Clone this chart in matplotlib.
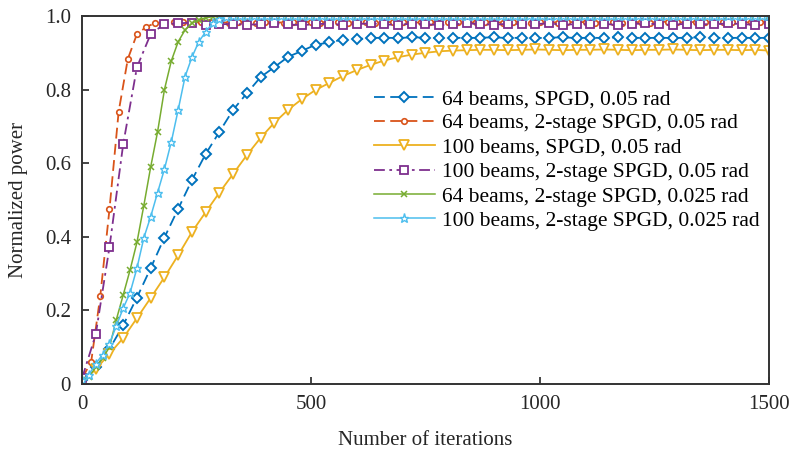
import matplotlib
matplotlib.use("Agg")
import matplotlib.pyplot as plt
import numpy as np

plt.rcParams['font.family'] = ['Liberation Serif', 'DejaVu Serif']

# iteration grids (marker spacing differs per curve)
it30 = np.arange(0, 1501, 30)
it20 = np.arange(0, 1501, 20)
it15 = np.arange(0, 1501, 15)

# 64 beams, SPGD, 0.05 rad
blue = [0.012, 0.045, 0.095, 0.160, 0.235, 0.315, 0.398, 0.476, 0.554, 0.625,
        0.685, 0.745, 0.790, 0.834, 0.861, 0.889, 0.905, 0.922, 0.928, 0.936,
        0.937, 0.940, 0.941, 0.940, 0.942, 0.941, 0.940, 0.941, 0.940, 0.941,
        0.942, 0.940, 0.941, 0.940, 0.941, 0.942, 0.940, 0.941, 0.940, 0.942,
        0.941, 0.940, 0.941, 0.940, 0.941, 0.942, 0.941, 0.940, 0.941, 0.940,
        0.941]

# 64 beams, 2-stage SPGD, 0.05 rad
red = [0.015, 0.060, 0.240, 0.475, 0.740, 0.883, 0.951, 0.970, 0.981, 0.982,
       0.983, 0.984, 0.982, 0.983, 0.985, 0.983, 0.982, 0.984, 0.983, 0.982,
       0.984, 0.983, 0.982, 0.983, 0.985, 0.983, 0.982, 0.984, 0.983, 0.982,
       0.983, 0.984, 0.982, 0.983, 0.984, 0.983, 0.981, 0.983, 0.984, 0.982,
       0.983, 0.984, 0.982, 0.983, 0.985, 0.983, 0.982, 0.984, 0.983, 0.982,
       0.983, 0.984, 0.982, 0.983, 0.984, 0.983, 0.982, 0.984, 0.983, 0.982,
       0.984, 0.983, 0.982, 0.983, 0.985, 0.983, 0.982, 0.984, 0.983, 0.982,
       0.983, 0.984, 0.982, 0.983, 0.984, 0.983]

# 100 beams, SPGD, 0.05 rad
orange = [0.005, 0.040, 0.082, 0.125, 0.179, 0.234, 0.290, 0.350, 0.413, 0.467,
          0.520, 0.571, 0.622, 0.669, 0.710, 0.745, 0.774, 0.799, 0.818, 0.837,
          0.853, 0.867, 0.879, 0.888, 0.895, 0.900, 0.904, 0.906, 0.907, 0.908,
          0.908, 0.907, 0.908, 0.909, 0.908, 0.907, 0.908, 0.908, 0.909, 0.908,
          0.907, 0.908, 0.908, 0.909, 0.908, 0.907, 0.908, 0.908, 0.907, 0.908,
          0.906]

# 100 beams, 2-stage SPGD, 0.05 rad
purple = [0.015, 0.135, 0.372, 0.652, 0.861, 0.951, 0.978, 0.980, 0.982, 0.975,
          0.977, 0.979, 0.976, 0.978, 0.980, 0.977, 0.975, 0.978, 0.979, 0.976,
          0.978, 0.980, 0.977, 0.976, 0.979, 0.978, 0.975, 0.977, 0.980, 0.978,
          0.976, 0.979, 0.977, 0.978, 0.980, 0.976, 0.978, 0.977, 0.979, 0.975,
          0.978, 0.980, 0.977, 0.976, 0.979, 0.978, 0.977, 0.980, 0.978, 0.976,
          0.978]

# 64 beams, 2-stage SPGD, 0.025 rad
green = [0.010, 0.020, 0.045, 0.070, 0.100, 0.175, 0.242, 0.310, 0.385, 0.485,
         0.590, 0.685, 0.800, 0.878, 0.930, 0.962, 0.980, 0.990, 0.995, 0.998,
         0.999, 1.000, 0.998, 1.000, 0.999, 0.999, 1.000, 0.998, 0.999, 1.000,
         0.999, 1.000, 0.998, 1.000, 0.999, 0.999, 1.000, 0.998, 0.999, 1.000,
         0.999, 1.000, 0.998, 1.000, 0.999, 0.999, 1.000, 0.998, 0.999, 1.000,
         0.999, 1.000, 0.998, 1.000, 0.999, 0.999, 1.000, 0.998, 0.999, 1.000,
         0.999, 1.000, 0.998, 1.000, 0.999, 0.999, 1.000, 0.998, 0.999, 1.000,
         0.999, 1.000, 0.998, 1.000, 0.999, 0.999, 1.000, 0.998, 0.999, 1.000,
         0.999, 1.000, 0.998, 1.000, 0.999, 0.999, 1.000, 0.998, 0.999, 1.000,
         0.999, 1.000, 0.998, 1.000, 0.999, 0.999, 1.000, 0.998, 0.999, 1.000,
         0.999]

# 100 beams, 2-stage SPGD, 0.025 rad
cyan = [0.010, 0.025, 0.055, 0.080, 0.110, 0.158, 0.206, 0.248, 0.315, 0.397,
        0.455, 0.520, 0.584, 0.658, 0.745, 0.835, 0.888, 0.930, 0.957, 0.980,
        0.993, 0.998, 0.999, 1.000, 1.000, 0.999, 1.000, 1.000, 0.999, 1.000,
        1.000, 0.999, 1.000, 1.000, 0.999, 1.000, 1.000, 0.999, 1.000, 1.000,
        1.000, 0.999, 1.000, 1.000, 0.999, 1.000, 1.000, 0.999, 1.000, 1.000,
        1.000, 0.999, 1.000, 1.000, 0.999, 1.000, 1.000, 0.999, 1.000, 1.000,
        1.000, 0.999, 1.000, 1.000, 0.999, 1.000, 1.000, 0.999, 1.000, 1.000,
        1.000, 0.999, 1.000, 1.000, 0.999, 1.000, 1.000, 0.999, 1.000, 1.000,
        1.000, 0.999, 1.000, 1.000, 0.999, 1.000, 1.000, 0.999, 1.000, 1.000,
        1.000, 0.999, 1.000, 1.000, 0.999, 1.000, 1.000, 0.999, 1.000, 1.000,
        1.000]

labels = ['64 beams, SPGD, 0.05 rad',
          '64 beams, 2-stage SPGD, 0.05 rad',
          '100 beams, SPGD, 0.05 rad',
          '100 beams, 2-stage SPGD, 0.05 rad',
          '64 beams, 2-stage SPGD, 0.025 rad',
          '100 beams, 2-stage SPGD, 0.025 rad']

fig = plt.figure(figsize=(7.9, 4.54), dpi=100)
ax = fig.add_axes([0.1038, 0.1542, 0.8696, 0.8106])

lw = 1.3
ax.plot(it30, blue, color='#0072BD', ls=(0, (6, 3)), lw=lw, marker='D', ms=5,
        mfc='white', mew=1.4, label=labels[0])
ax.plot(it20, red, color='#D95319', ls=(0, (6, 3)), lw=lw, marker='o', ms=4,
        mfc='white', mew=1.2, label=labels[1])
ax.plot(it30, orange, color='#EDB120', ls='-', lw=lw, marker='v', ms=6.5,
        mfc='white', mew=1.3, label=labels[2])
ax.plot(it30, purple, color='#7E2F8E', ls=(0, (6, 2.5, 1.5, 2.5)), lw=lw, marker='s',
        ms=5.5, mfc='white', mew=1.3, label=labels[3])
ax.plot(it15, green, color='#77AC30', ls='-', lw=1.1, marker='x', ms=4,
        mew=1.1, label=labels[4])
ax.plot(it15, cyan, color='#4DBEEE', ls='-', lw=1.1, marker='*', ms=6.5,
        mfc='white', mew=1.0, label=labels[5])

ax.set_xlim(0, 1500)
ax.set_ylim(0, 1.0)
ax.set_xticks([0, 500, 1000, 1500])
ax.set_yticks([0, 0.2, 0.4, 0.6, 0.8, 1.0])
ax.set_yticklabels(['0', '0.2', '0.4', '0.6', '0.8', '1.0'])
ax.tick_params(direction='in', length=5, width=1.2, labelsize=15, colors='#262626',
               pad=8)
for s in ax.spines.values():
    s.set_linewidth(1.4)
    s.set_color('#333333')

ax.set_xlabel('Number of iterations', fontsize=15, labelpad=12, color='#262626')
ax.set_ylabel('Normalized power', fontsize=15, labelpad=12, color='#262626')

ax.legend(loc='upper left', bbox_to_anchor=(0.413, 0.825), frameon=False,
          fontsize=15.5, handlelength=2.8, handletextpad=0.35, labelspacing=0.2,
          borderaxespad=0)

fig.savefig('out.png', dpi=100)
